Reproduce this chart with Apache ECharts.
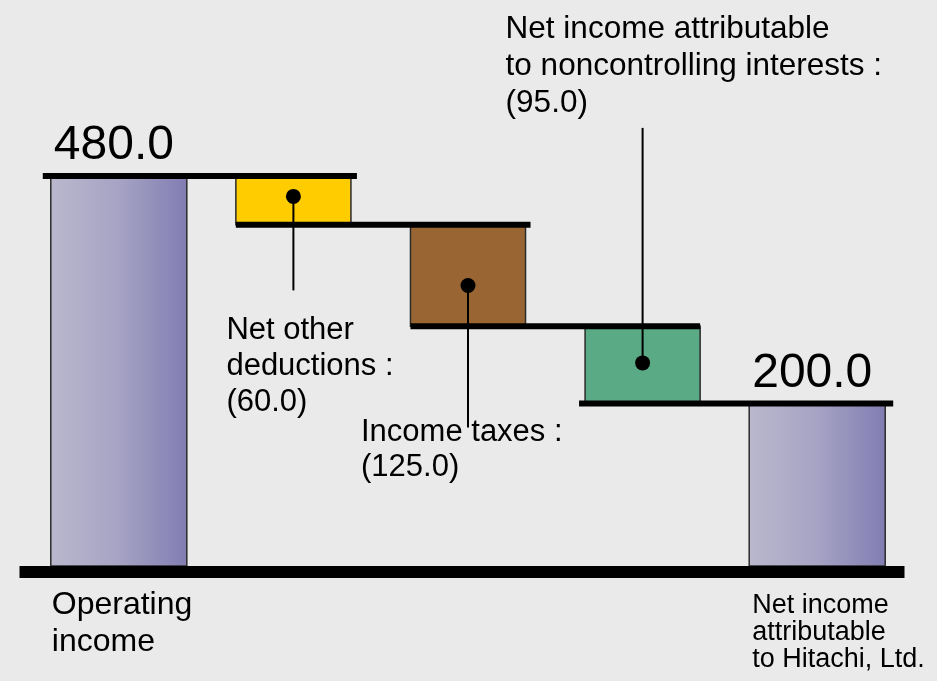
<!DOCTYPE html>
<html><head><meta charset="utf-8">
<script src="https://cdn.jsdelivr.net/npm/echarts@6/dist/echarts.min.js"></script>
<style>html,body{margin:0;padding:0;background:#eaeaea}#c{width:937px;height:681px}</style>
</head><body><div id="c"></div>
<script>
// ---------- data ----------
const categories = ['Operating\nincome', 'Net other deductions', 'Income taxes', 'Net income attributable to noncontrolling interests', 'Net income\nattributable\nto Hitachi, Ltd.'];
const categoryLabels = ['Operating\nincome', '', '', '', 'Net income\nattributable\nto Hitachi, Ltd.'];
const totals = [480.0, null, null, null, 200.0];
const deductions = [null, 60.0, 125.0, 95.0, null];
const valueLabels = ['480.0', '', '', '', '200.0'];
const annotationLabels = ['', 'Net other\ndeductions :\n(60.0)', 'Income taxes :\n(125.0)', 'Net income attributable\nto noncontrolling interests :\n(95.0)', ''];

// ---------- styles (not data) ----------
const FONT = '"Liberation Sans", Arial, Helvetica, sans-serif';
const barColors = [null, '#ffcc00', '#996633', '#5aaa86', null];
const widthFrac = i => totals[i] != null ? 0.779 : 0.659;
const connLeftPad = [8, 0, 0, 6];
const connRightPad = [6, 5, 0, 8];
const annot = {
  1: { dotDy: -4, lineDy: 94, textDx: -67, textDy: 116, fs: 31, lh: 36 },
  2: { dotDy: 10, lineDy: 142, textDx: -107, textDy: 129, fs: 31, lh: 35 },
  3: { dotDy: -2, lineDy: -235, textDx: -137, textDy: -352, fs: 31.5, lh: 37 }
};
const catLabelStyle = {
  0: { dx: 1, dy: 21, fs: 32, lh: 37 },
  4: { dx: 3, dy: 26, fs: 27, lh: 27 }
};

// derived bar extents
const barData = [];
let running = totals[0];
categories.forEach((c, i) => {
  if (totals[i] != null) barData.push([i, 0, totals[i]]);
  else { barData.push([i, running - deductions[i], running]); running -= deductions[i]; }
});
const connData = [];
for (let k = 0; k < categories.length - 1; k++) connData.push([k, barData[k + 1][2]]);

const purpleGrad = () => new echarts.graphic.LinearGradient(0, 0, 1, 0, [
  { offset: 0, color: '#bab8cd' }, { offset: 0.5, color: '#a6a3c4' }, { offset: 1, color: '#817db2' }
]);

const chart = echarts.init(document.getElementById('c'));
chart.setOption({
  backgroundColor: '#eaeaea',
  animation: false,
  grid: { left: 31.5, right: 32.5, top: 78.5, bottom: 115 },
  xAxis: { type: 'category', data: categories, show: false },
  yAxis: { type: 'value', min: 0, max: 600, show: false },
  series: [
    { // bars
      type: 'custom', z: 2,
      data: barData,
      encode: { x: 0, y: [1, 2] },
      renderItem(params, api) {
        const i = api.value(0), lo = api.value(1), hi = api.value(2);
        const band = api.size([1, 0])[0];
        const w = band * widthFrac(i);
        const pT = api.coord([i, hi]), pB = api.coord([i, lo]);
        const isTotal = totals[i] != null;
        const children = [{
          type: 'rect',
          shape: { x: pT[0] - w / 2, y: pT[1], width: w, height: pB[1] - pT[1] },
          style: { fill: isTotal ? purpleGrad() : barColors[i], stroke: '#2b2b2b', lineWidth: 1.5 }
        }];
        if (valueLabels[i]) {
          children.push({
            type: 'text', x: pT[0] - w / 2 + 3, y: pT[1] - 6,
            style: { text: valueLabels[i], fontSize: 48, fontFamily: FONT, fill: '#000', align: 'left', verticalAlign: 'bottom', lineHeight: 48 }
          });
        }
        if (categoryLabels[i]) {
          const s = catLabelStyle[i];
          children.push({
            type: 'text', x: pT[0] - w / 2 + s.dx, y: pB[1] + s.dy,
            style: { text: categoryLabels[i], fontSize: s.fs, fontFamily: FONT, fill: '#000', align: 'left', verticalAlign: 'top', lineHeight: s.lh }
          });
        }
        return { type: 'group', children };
      }
    },
    { // connectors
      type: 'custom', z: 3,
      data: connData,
      encode: { x: 0, y: 1 },
      renderItem(params, api) {
        const k = api.value(0), lvl = api.value(1);
        const band = api.size([1, 0])[0];
        const a = api.coord([k, lvl]), b = api.coord([k + 1, lvl]);
        const x1 = a[0] - band * widthFrac(k) / 2 - connLeftPad[k];
        const x2 = b[0] + band * widthFrac(k + 1) / 2 + connRightPad[k];
        return { type: 'rect', shape: { x: x1, y: a[1] - 3, width: x2 - x1, height: 6 }, style: { fill: '#000' } };
      }
    },
    { // baseline
      type: 'custom', z: 4,
      data: [[0, 0]],
      encode: { x: 0, y: 1 },
      renderItem(params, api) {
        const cs = params.coordSys;
        const y0 = api.coord([0, 0])[1];
        return { type: 'rect', shape: { x: cs.x - 12, y: y0, width: cs.width + 12, height: 12 }, style: { fill: '#000' } };
      }
    },
    { // annotations
      type: 'custom', z: 5,
      data: barData.filter(d => annotationLabels[d[0]]),
      encode: { x: 0, y: [1, 2] },
      renderItem(params, api) {
        const i = api.value(0), lo = api.value(1), hi = api.value(2);
        const a = annot[i];
        const c = api.coord([i, (lo + hi) / 2]);
        const p = [c[0], c[1] + a.dotDy];
        return {
          type: 'group', children: [
            { type: 'line', shape: { x1: p[0], y1: p[1], x2: p[0], y2: p[1] + a.lineDy }, style: { stroke: '#000', lineWidth: 2 } },
            { type: 'circle', shape: { cx: p[0], cy: p[1], r: 7.5 }, style: { fill: '#000' } },
            { type: 'text', x: p[0] + a.textDx, y: p[1] + a.textDy,
              style: { text: annotationLabels[i], fontSize: a.fs, fontFamily: FONT, fill: '#000', align: 'left', verticalAlign: 'top', lineHeight: a.lh } }
          ]
        };
      }
    }
  ]
});
</script>
</body></html>
